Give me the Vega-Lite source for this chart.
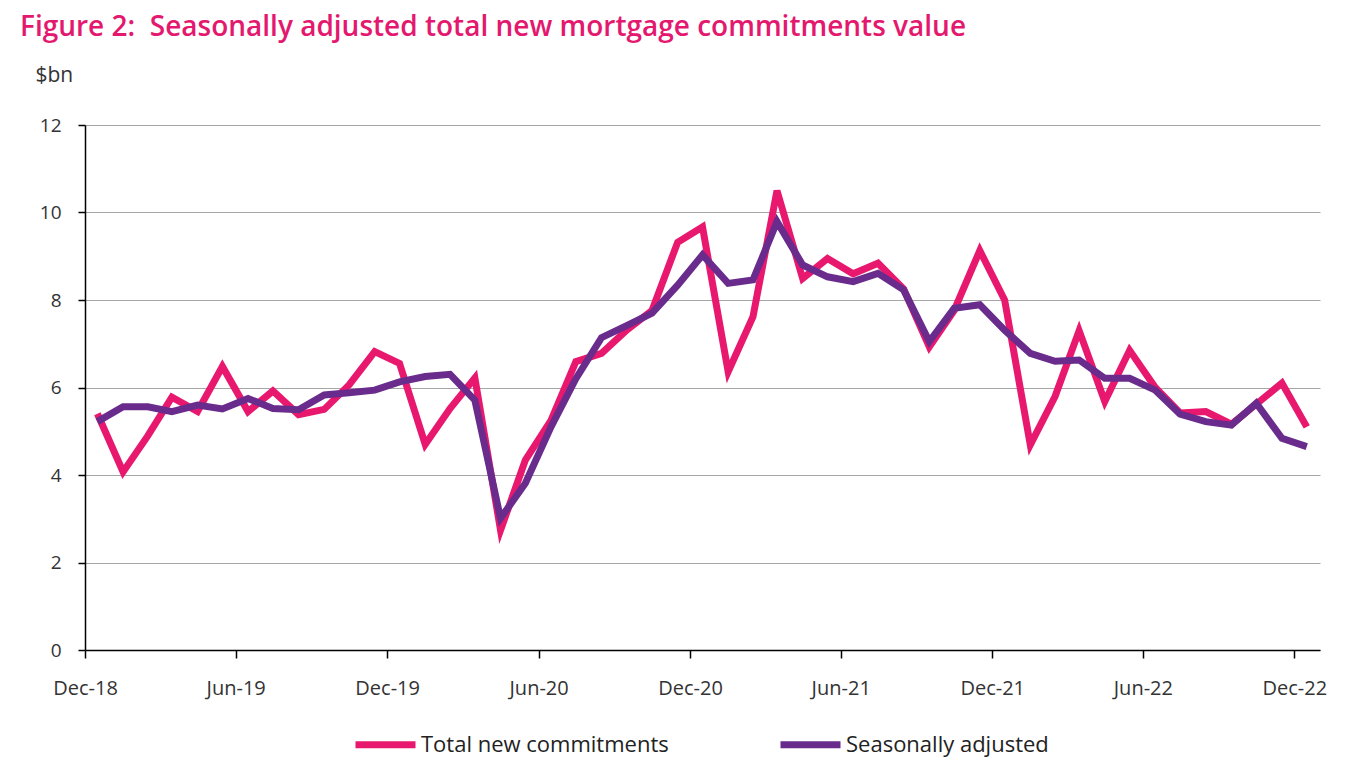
{
  "$schema": "https://vega.github.io/schema/vega-lite/v6.json",
  "width": 1235,
  "height": 525,
  "autosize": {"type": "none"},
  "padding": {"left": 85, "top": 125, "right": 40, "bottom": 115},
  "background": "white",
  "title": {
    "text": "Figure 2:\u00a0 Seasonally adjusted total new mortgage commitments value",
    "anchor": "start",
    "frame": "group",
    "dx": -65,
    "offset": 22,
    "font": "Open Sans",
    "fontSize": 28,
    "fontWeight": 600,
    "color": "#E3186E"
  },
  "config": {
    "view": {"stroke": null},
    "font": "Open Sans",
    "axis": {
      "labelFont": "Open Sans",
      "labelFontSize": 19,
      "labelColor": "#333333",
      "domainColor": "#000000",
      "domainWidth": 1.5,
      "tickColor": "#000000",
      "tickWidth": 1.5,
      "gridColor": "#A6A6A6",
      "gridWidth": 1.2
    }
  },
  "data": {
    "values": [
      {"month": "2018-12-16T00:00:00", "series": "Total new commitments", "value": 5.4},
      {"month": "2019-01-16T00:00:00", "series": "Total new commitments", "value": 4.07},
      {"month": "2019-02-15T00:00:00", "series": "Total new commitments", "value": 4.9},
      {"month": "2019-03-16T00:00:00", "series": "Total new commitments", "value": 5.78},
      {"month": "2019-04-16T00:00:00", "series": "Total new commitments", "value": 5.45},
      {"month": "2019-05-16T00:00:00", "series": "Total new commitments", "value": 6.48},
      {"month": "2019-06-16T00:00:00", "series": "Total new commitments", "value": 5.45},
      {"month": "2019-07-16T00:00:00", "series": "Total new commitments", "value": 5.92},
      {"month": "2019-08-16T00:00:00", "series": "Total new commitments", "value": 5.38},
      {"month": "2019-09-16T00:00:00", "series": "Total new commitments", "value": 5.5},
      {"month": "2019-10-16T00:00:00", "series": "Total new commitments", "value": 6.06},
      {"month": "2019-11-16T00:00:00", "series": "Total new commitments", "value": 6.82},
      {"month": "2019-12-16T00:00:00", "series": "Total new commitments", "value": 6.55},
      {"month": "2020-01-16T00:00:00", "series": "Total new commitments", "value": 4.7},
      {"month": "2020-02-15T00:00:00", "series": "Total new commitments", "value": 5.52},
      {"month": "2020-03-16T00:00:00", "series": "Total new commitments", "value": 6.22},
      {"month": "2020-04-16T00:00:00", "series": "Total new commitments", "value": 2.74},
      {"month": "2020-05-16T00:00:00", "series": "Total new commitments", "value": 4.34},
      {"month": "2020-06-16T00:00:00", "series": "Total new commitments", "value": 5.25},
      {"month": "2020-07-16T00:00:00", "series": "Total new commitments", "value": 6.59},
      {"month": "2020-08-16T00:00:00", "series": "Total new commitments", "value": 6.78},
      {"month": "2020-09-16T00:00:00", "series": "Total new commitments", "value": 7.32},
      {"month": "2020-10-16T00:00:00", "series": "Total new commitments", "value": 7.76},
      {"month": "2020-11-16T00:00:00", "series": "Total new commitments", "value": 9.32},
      {"month": "2020-12-16T00:00:00", "series": "Total new commitments", "value": 9.67},
      {"month": "2021-01-16T00:00:00", "series": "Total new commitments", "value": 6.36},
      {"month": "2021-02-15T00:00:00", "series": "Total new commitments", "value": 7.62},
      {"month": "2021-03-16T00:00:00", "series": "Total new commitments", "value": 10.5},
      {"month": "2021-04-16T00:00:00", "series": "Total new commitments", "value": 8.49},
      {"month": "2021-05-16T00:00:00", "series": "Total new commitments", "value": 8.95},
      {"month": "2021-06-16T00:00:00", "series": "Total new commitments", "value": 8.6},
      {"month": "2021-07-16T00:00:00", "series": "Total new commitments", "value": 8.84},
      {"month": "2021-08-16T00:00:00", "series": "Total new commitments", "value": 8.25},
      {"month": "2021-09-16T00:00:00", "series": "Total new commitments", "value": 6.93},
      {"month": "2021-10-16T00:00:00", "series": "Total new commitments", "value": 7.76},
      {"month": "2021-11-16T00:00:00", "series": "Total new commitments", "value": 9.13},
      {"month": "2021-12-16T00:00:00", "series": "Total new commitments", "value": 8.0},
      {"month": "2022-01-16T00:00:00", "series": "Total new commitments", "value": 4.69},
      {"month": "2022-02-15T00:00:00", "series": "Total new commitments", "value": 5.8},
      {"month": "2022-03-16T00:00:00", "series": "Total new commitments", "value": 7.3},
      {"month": "2022-04-16T00:00:00", "series": "Total new commitments", "value": 5.68},
      {"month": "2022-05-16T00:00:00", "series": "Total new commitments", "value": 6.85},
      {"month": "2022-06-16T00:00:00", "series": "Total new commitments", "value": 6.0},
      {"month": "2022-07-16T00:00:00", "series": "Total new commitments", "value": 5.42},
      {"month": "2022-08-16T00:00:00", "series": "Total new commitments", "value": 5.45},
      {"month": "2022-09-16T00:00:00", "series": "Total new commitments", "value": 5.16},
      {"month": "2022-10-16T00:00:00", "series": "Total new commitments", "value": 5.62},
      {"month": "2022-11-16T00:00:00", "series": "Total new commitments", "value": 6.1},
      {"month": "2022-12-16T00:00:00", "series": "Total new commitments", "value": 5.1},
      {"month": "2018-12-16T00:00:00", "series": "Seasonally adjusted", "value": 5.22},
      {"month": "2019-01-16T00:00:00", "series": "Seasonally adjusted", "value": 5.56},
      {"month": "2019-02-15T00:00:00", "series": "Seasonally adjusted", "value": 5.56},
      {"month": "2019-03-16T00:00:00", "series": "Seasonally adjusted", "value": 5.45},
      {"month": "2019-04-16T00:00:00", "series": "Seasonally adjusted", "value": 5.6},
      {"month": "2019-05-16T00:00:00", "series": "Seasonally adjusted", "value": 5.51},
      {"month": "2019-06-16T00:00:00", "series": "Seasonally adjusted", "value": 5.75},
      {"month": "2019-07-16T00:00:00", "series": "Seasonally adjusted", "value": 5.52},
      {"month": "2019-08-16T00:00:00", "series": "Seasonally adjusted", "value": 5.49},
      {"month": "2019-09-16T00:00:00", "series": "Seasonally adjusted", "value": 5.83},
      {"month": "2019-10-16T00:00:00", "series": "Seasonally adjusted", "value": 5.88},
      {"month": "2019-11-16T00:00:00", "series": "Seasonally adjusted", "value": 5.94},
      {"month": "2019-12-16T00:00:00", "series": "Seasonally adjusted", "value": 6.13},
      {"month": "2020-01-16T00:00:00", "series": "Seasonally adjusted", "value": 6.25},
      {"month": "2020-02-15T00:00:00", "series": "Seasonally adjusted", "value": 6.3},
      {"month": "2020-03-16T00:00:00", "series": "Seasonally adjusted", "value": 5.71},
      {"month": "2020-04-16T00:00:00", "series": "Seasonally adjusted", "value": 3.01},
      {"month": "2020-05-16T00:00:00", "series": "Seasonally adjusted", "value": 3.81},
      {"month": "2020-06-16T00:00:00", "series": "Seasonally adjusted", "value": 5.1},
      {"month": "2020-07-16T00:00:00", "series": "Seasonally adjusted", "value": 6.2},
      {"month": "2020-08-16T00:00:00", "series": "Seasonally adjusted", "value": 7.14},
      {"month": "2020-09-16T00:00:00", "series": "Seasonally adjusted", "value": 7.42},
      {"month": "2020-10-16T00:00:00", "series": "Seasonally adjusted", "value": 7.7},
      {"month": "2020-11-16T00:00:00", "series": "Seasonally adjusted", "value": 8.34},
      {"month": "2020-12-16T00:00:00", "series": "Seasonally adjusted", "value": 9.03},
      {"month": "2021-01-16T00:00:00", "series": "Seasonally adjusted", "value": 8.38},
      {"month": "2021-02-15T00:00:00", "series": "Seasonally adjusted", "value": 8.46},
      {"month": "2021-03-16T00:00:00", "series": "Seasonally adjusted", "value": 9.79},
      {"month": "2021-04-16T00:00:00", "series": "Seasonally adjusted", "value": 8.8},
      {"month": "2021-05-16T00:00:00", "series": "Seasonally adjusted", "value": 8.53},
      {"month": "2021-06-16T00:00:00", "series": "Seasonally adjusted", "value": 8.42},
      {"month": "2021-07-16T00:00:00", "series": "Seasonally adjusted", "value": 8.61},
      {"month": "2021-08-16T00:00:00", "series": "Seasonally adjusted", "value": 8.23},
      {"month": "2021-09-16T00:00:00", "series": "Seasonally adjusted", "value": 7.05},
      {"month": "2021-10-16T00:00:00", "series": "Seasonally adjusted", "value": 7.81},
      {"month": "2021-11-16T00:00:00", "series": "Seasonally adjusted", "value": 7.89},
      {"month": "2021-12-16T00:00:00", "series": "Seasonally adjusted", "value": 7.31},
      {"month": "2022-01-16T00:00:00", "series": "Seasonally adjusted", "value": 6.78},
      {"month": "2022-02-15T00:00:00", "series": "Seasonally adjusted", "value": 6.6},
      {"month": "2022-03-16T00:00:00", "series": "Seasonally adjusted", "value": 6.63},
      {"month": "2022-04-16T00:00:00", "series": "Seasonally adjusted", "value": 6.21},
      {"month": "2022-05-16T00:00:00", "series": "Seasonally adjusted", "value": 6.21},
      {"month": "2022-06-16T00:00:00", "series": "Seasonally adjusted", "value": 5.94},
      {"month": "2022-07-16T00:00:00", "series": "Seasonally adjusted", "value": 5.39},
      {"month": "2022-08-16T00:00:00", "series": "Seasonally adjusted", "value": 5.22},
      {"month": "2022-09-16T00:00:00", "series": "Seasonally adjusted", "value": 5.14},
      {"month": "2022-10-16T00:00:00", "series": "Seasonally adjusted", "value": 5.64},
      {"month": "2022-11-16T00:00:00", "series": "Seasonally adjusted", "value": 4.84},
      {"month": "2022-12-16T00:00:00", "series": "Seasonally adjusted", "value": 4.65}
    ]
  },
  "mark": {"type": "line", "strokeWidth": 7, "strokeJoin": "miter", "strokeCap": "butt"},
  "encoding": {
    "x": {
      "field": "month",
      "type": "temporal",
      "scale": {
        "domain": [
          {"year": 2018, "month": 12, "date": 1},
          {"year": 2023, "month": 1, "date": 1}
        ]
      },
      "axis": {
        "title": null,
        "grid": false,
        "format": "%b-%y",
        "values": [
          {"year": 2018, "month": 12, "date": 1},
          {"year": 2019, "month": 6, "date": 1},
          {"year": 2019, "month": 12, "date": 1},
          {"year": 2020, "month": 6, "date": 1},
          {"year": 2020, "month": 12, "date": 1},
          {"year": 2021, "month": 6, "date": 1},
          {"year": 2021, "month": 12, "date": 1},
          {"year": 2022, "month": 6, "date": 1},
          {"year": 2022, "month": 12, "date": 1}
        ],
        "tickSize": 8,
        "labelPadding": 20,
        "labelFontSize": 20,
        "labelFlush": false,
        "labelOverlap": false
      }
    },
    "y": {
      "field": "value",
      "type": "quantitative",
      "scale": {"domain": [0, 12], "nice": false, "zero": true},
      "axis": {
        "title": "$bn",
        "titleAngle": 0,
        "titleAlign": "left",
        "titleBaseline": "middle",
        "titleX": -50,
        "titleY": -50,
        "titleFont": "Open Sans",
        "titleFontSize": 21,
        "titleFontWeight": "normal",
        "titleColor": "#333333",
        "values": [0, 2, 4, 6, 8, 10, 12],
        "tickSize": 7,
        "labelPadding": 17,
        "grid": true
      }
    },
    "color": {
      "field": "series",
      "type": "nominal",
      "sort": ["Total new commitments", "Seasonally adjusted"],
      "scale": {
        "domain": ["Total new commitments", "Seasonally adjusted"],
        "range": ["#E8186F", "#6A2C8C"]
      },
      "legend": {
        "title": null,
        "orient": "none",
        "legendX": 267,
        "legendY": 586,
        "direction": "horizontal",
        "symbolType": "stroke",
        "symbolSize": 3600,
        "symbolStrokeWidth": 7,
        "labelFont": "Open Sans",
        "labelFontSize": 22,
        "labelColor": "#222222",
        "labelOffset": 2,
        "labelLimit": 400,
        "columnPadding": 97
      }
    }
  }
}
